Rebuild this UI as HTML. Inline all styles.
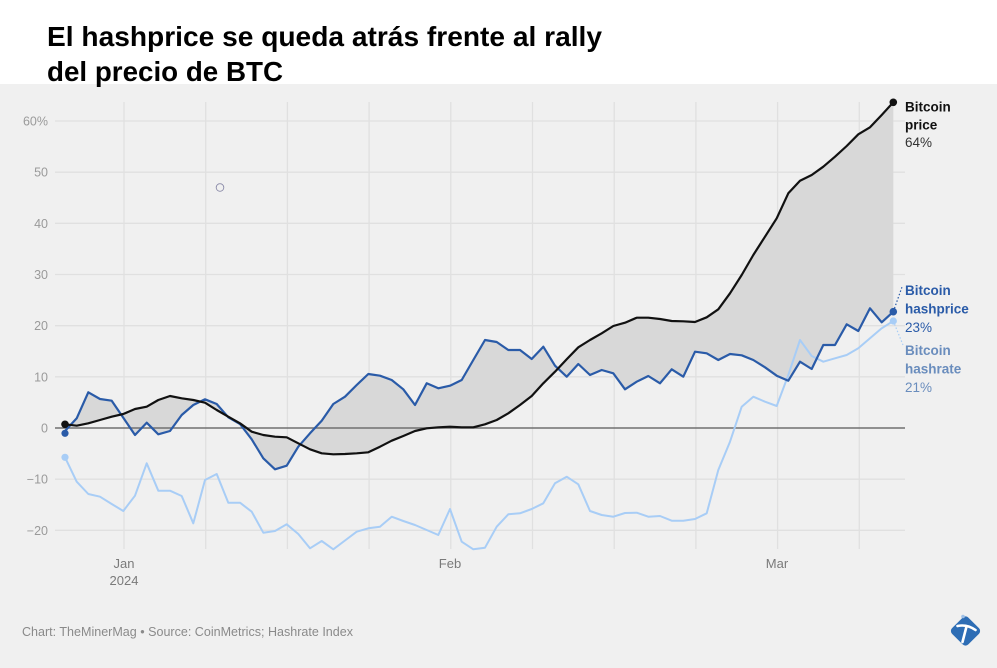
<!DOCTYPE html>
<html>
<head>
<meta charset="utf-8">
<style>
html,body{margin:0;padding:0;background:#fff;}
svg{display:block;}
text{font-family:"Liberation Sans",Arial,sans-serif;}
</style>
</head>
<body>
<svg width="997" height="668" viewBox="0 0 997 668" xmlns="http://www.w3.org/2000/svg">
<rect x="0" y="0" width="997" height="668" fill="#ffffff"/>
<rect x="0" y="84" width="997" height="584" fill="#f0f0f0"/>

<!-- Title -->
<text x="47" y="46" font-size="28" font-weight="bold" fill="#000" textLength="555" lengthAdjust="spacingAndGlyphs">El hashprice se queda atrás frente al rally</text>
<text x="47" y="81" font-size="28" font-weight="bold" fill="#000" textLength="236" lengthAdjust="spacingAndGlyphs">del precio de BTC</text>

<!-- gridlines -->
<g stroke="#e0e0e0" stroke-width="1.3" fill="none">
<line x1="55" y1="121" x2="905" y2="121"/>
<line x1="55" y1="172.2" x2="905" y2="172.2"/>
<line x1="55" y1="223.3" x2="905" y2="223.3"/>
<line x1="55" y1="274.5" x2="905" y2="274.5"/>
<line x1="55" y1="325.7" x2="905" y2="325.7"/>
<line x1="55" y1="376.8" x2="905" y2="376.8"/>
<line x1="55" y1="479.2" x2="905" y2="479.2"/>
<line x1="55" y1="530.3" x2="905" y2="530.3"/>
<line x1="124" y1="102" x2="124" y2="549"/>
<line x1="205.7" y1="102" x2="205.7" y2="549"/>
<line x1="287.4" y1="102" x2="287.4" y2="549"/>
<line x1="369.1" y1="102" x2="369.1" y2="549"/>
<line x1="450.8" y1="102" x2="450.8" y2="549"/>
<line x1="532.5" y1="102" x2="532.5" y2="549"/>
<line x1="614.2" y1="102" x2="614.2" y2="549"/>
<line x1="695.9" y1="102" x2="695.9" y2="549"/>
<line x1="777.6" y1="102" x2="777.6" y2="549"/>
<line x1="859.3" y1="102" x2="859.3" y2="549"/>
</g>

<!-- y labels -->
<g font-size="12.5" fill="#9a9a9a" text-anchor="end">
<text x="48" y="125.5">60%</text>
<text x="48" y="176.7">50</text>
<text x="48" y="227.8">40</text>
<text x="48" y="279">30</text>
<text x="48" y="330.2">20</text>
<text x="48" y="381.3">10</text>
<text x="48" y="432.5">0</text>
<text x="48" y="483.7">−10</text>
<text x="48" y="534.8">−20</text>
</g>

<!-- x labels -->
<g font-size="13" fill="#7a7a7a" text-anchor="middle">
<text x="124" y="568">Jan</text>
<text x="124" y="585">2024</text>
<text x="450" y="568">Feb</text>
<text x="777" y="568">Mar</text>
</g>

<!-- fill between price and hashprice -->
<polygon fill="#d8d8d8" stroke="none" points="65,424.3 76.7,425.7 88.3,423.3 100,420 111.7,416.7 123.3,414 135,409 146.7,406.7 158.3,400 170,396 181.7,398.3 193.3,400 205,402.7 216.7,410 228.3,416.7 240,423.3 251.7,431.7 263.3,435 275,436.7 286.7,437.3 298.3,443.3 310,449.3 321.7,453.3 333.3,454.3 345,454 356.7,453.3 368.3,452.3 380,446.7 391.7,440.7 403.3,436 415,431 426.7,428.3 438.3,427.3 450,426.7 461.7,427.3 473.3,427.3 485,424.3 496.7,420 508.3,413.3 520,405 531.7,396 543.3,383.3 555,371.7 566.7,359.3 578.3,347.3 590,340 601.7,333.3 613.3,326 625,322.7 636.7,317.7 648.3,317.7 660,319 671.7,321 683.3,321.3 695,322 706.7,317.3 718.3,309.3 730,293.3 741.7,275 753.3,255 765,236.7 776.7,218.3 788.3,193.3 800,180.7 811.7,175 823.3,166.7 835,156.7 846.7,146 858.3,134.3 870,127.3 881.7,115 893.3,102.3 893.3,311.7 881.7,322.3 870,308.3 858.3,331 846.7,324.3 835,345 823.3,345 811.7,369 800,361.7 788.3,380.7 776.7,375.7 765,367.3 753.3,360 741.7,355.3 730,354 718.3,360 706.7,353.3 695,351.7 683.3,376.7 671.7,369.3 660,383.3 648.3,376 636.7,381.7 625,389.3 613.3,373.3 601.7,370 590,375 578.3,364 566.7,376.7 555,365.7 543.3,346.7 531.7,359 520,350 508.3,350 496.7,342 485,340 473.3,360 461.7,380 450,385.7 438.3,388.3 426.7,383.3 415,405 403.3,389.3 391.7,380 380,375.7 368.3,374 356.7,385 345,396.7 333.3,404 321.7,420.7 310,433.3 298.3,446.7 286.7,465.7 275,469.3 263.3,458.3 251.7,439.3 240,424 228.3,417.3 216.7,404 205,399.3 193.3,405 181.7,415 170,431 158.3,434.3 146.7,422.7 135,435 123.3,417.8 111.7,400.7 100,399 88.3,392.3 76.7,418.3 65,431"/>

<!-- zero line -->
<line x1="55" y1="428" x2="905" y2="428" stroke="#707070" stroke-width="1.6"/>

<!-- stray circle -->
<circle cx="220" cy="187.5" r="3.8" fill="none" stroke="#8a8aa8" stroke-width="0.9"/>

<!-- hashrate -->
<polyline fill="none" stroke="#a8cdf6" stroke-width="2" stroke-linejoin="round" points="65,457.3 76.7,481.7 88.3,494 100,496.7 111.7,504 123.3,511 135,495.7 146.7,463.3 158.3,490.7 170,490.7 181.7,496 193.3,523.3 205,480 216.7,474 228.3,502.7 240,502.7 251.7,511.7 263.3,532.7 275,531 286.7,524.3 298.3,534 310,548.3 321.7,541 333.3,549.3 345,540.5 356.7,531.7 368.3,528.3 380,526.7 391.7,516.7 403.3,521 415,525 426.7,530 438.3,535 450,509 461.7,541.7 473.3,549.3 485,547.7 496.7,526.7 508.3,514.3 520,513.3 531.7,509 543.3,503.3 555,483.3 566.7,476.7 578.3,484.3 590,511 601.7,515 613.3,516.7 625,513 636.7,512.7 648.3,516.7 660,516 671.7,520.7 683.3,520.7 695,519 706.7,513.3 718.3,470 730,441.7 741.7,406.7 753.3,396.7 765,401.7 776.7,406 788.3,375 800,340 811.7,356 823.3,361.7 835,358.3 846.7,355 858.3,348.3 870,338.3 881.7,328.3 893.3,321"/>

<!-- hashprice -->
<polyline fill="none" stroke="#2a5ba8" stroke-width="2.2" stroke-linejoin="round" points="65,431 76.7,418.3 88.3,392.3 100,399 111.7,400.7 123.3,417.8 135,435 146.7,422.7 158.3,434.3 170,431 181.7,415 193.3,405 205,399.3 216.7,404 228.3,417.3 240,424 251.7,439.3 263.3,458.3 275,469.3 286.7,465.7 298.3,446.7 310,433.3 321.7,420.7 333.3,404 345,396.7 356.7,385 368.3,374 380,375.7 391.7,380 403.3,389.3 415,405 426.7,383.3 438.3,388.3 450,385.7 461.7,380 473.3,360 485,340 496.7,342 508.3,350 520,350 531.7,359 543.3,346.7 555,365.7 566.7,376.7 578.3,364 590,375 601.7,370 613.3,373.3 625,389.3 636.7,381.7 648.3,376 660,383.3 671.7,369.3 683.3,376.7 695,351.7 706.7,353.3 718.3,360 730,354 741.7,355.3 753.3,360 765,367.3 776.7,375.7 788.3,380.7 800,361.7 811.7,369 823.3,345 835,345 846.7,324.3 858.3,331 870,308.3 881.7,322.3 893.3,311.7"/>

<!-- price -->
<polyline fill="none" stroke="#111111" stroke-width="2.2" stroke-linejoin="round" points="65,424.3 76.7,425.7 88.3,423.3 100,420 111.7,416.7 123.3,414 135,409 146.7,406.7 158.3,400 170,396 181.7,398.3 193.3,400 205,402.7 216.7,410 228.3,416.7 240,423.3 251.7,431.7 263.3,435 275,436.7 286.7,437.3 298.3,443.3 310,449.3 321.7,453.3 333.3,454.3 345,454 356.7,453.3 368.3,452.3 380,446.7 391.7,440.7 403.3,436 415,431 426.7,428.3 438.3,427.3 450,426.7 461.7,427.3 473.3,427.3 485,424.3 496.7,420 508.3,413.3 520,405 531.7,396 543.3,383.3 555,371.7 566.7,359.3 578.3,347.3 590,340 601.7,333.3 613.3,326 625,322.7 636.7,317.7 648.3,317.7 660,319 671.7,321 683.3,321.3 695,322 706.7,317.3 718.3,309.3 730,293.3 741.7,275 753.3,255 765,236.7 776.7,218.3 788.3,193.3 800,180.7 811.7,175 823.3,166.7 835,156.7 846.7,146 858.3,134.3 870,127.3 881.7,115 893.3,102.3"/>

<!-- leader lines -->
<line x1="893.3" y1="311.7" x2="902" y2="287" stroke="#2a5ba8" stroke-width="1.2" stroke-dasharray="1.5,2"/>
<line x1="893.3" y1="321" x2="903" y2="345" stroke="#a8cdf6" stroke-width="1.2" stroke-dasharray="1.5,2"/>

<!-- dots -->
<circle cx="65" cy="457.3" r="3.6" fill="#a8cdf6"/>
<circle cx="65" cy="433.3" r="3.6" fill="#2a5ba8"/>
<circle cx="65" cy="424.3" r="3.8" fill="#111"/>
<circle cx="893.3" cy="321" r="3.6" fill="#a8cdf6"/>
<circle cx="893.3" cy="311.7" r="3.8" fill="#2a5ba8"/>
<circle cx="893.3" cy="102.3" r="3.8" fill="#111"/>

<!-- end labels -->
<g font-size="13.5">
<text x="905" y="111.5" font-weight="bold" fill="#111">Bitcoin</text>
<text x="905" y="129.5" font-weight="bold" fill="#111">price</text>
<text x="905" y="147" fill="#333">64%</text>
<text x="905" y="295" font-weight="bold" fill="#2a5ba8">Bitcoin</text>
<text x="905" y="313.5" font-weight="bold" fill="#2a5ba8">hashprice</text>
<text x="905" y="332" fill="#2a5ba8">23%</text>
<text x="905" y="355" font-weight="bold" fill="#6a8dbd">Bitcoin</text>
<text x="905" y="373.5" font-weight="bold" fill="#6a8dbd">hashrate</text>
<text x="905" y="392" fill="#6a8dbd">21%</text>
</g>

<!-- footer -->
<text x="22" y="636" font-size="12.5" fill="#8a8a8a" textLength="331" lengthAdjust="spacingAndGlyphs">Chart: TheMinerMag • Source: CoinMetrics; Hashrate Index</text>

<!-- logo -->
<g transform="translate(965.5,631) rotate(45)">
<rect x="-11.5" y="-11.5" width="23" height="23" rx="4" fill="#2d6db5"/>
</g>
<path d="M957.5,626 Q967,624 975.5,630" fill="none" stroke="#fff" stroke-width="2.6" stroke-linecap="round"/>
<path d="M966.5,626.5 L962.5,642" fill="none" stroke="#fff" stroke-width="2.6" stroke-linecap="round"/>
<circle cx="963" cy="616.5" r="1.8" fill="#9fc0e6"/>
</svg>
</body>
</html>
